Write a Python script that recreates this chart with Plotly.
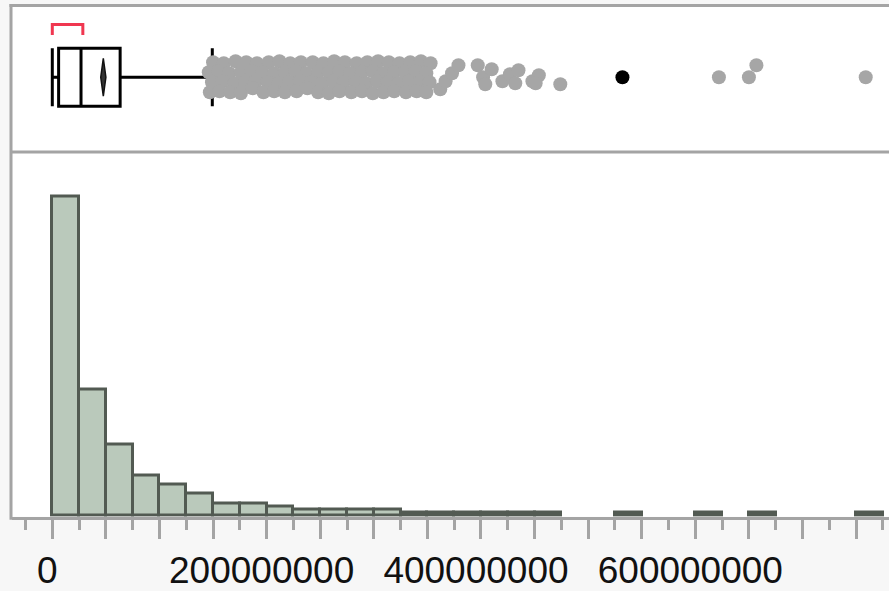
import plotly.graph_objects as go

W, H = 889, 591
M = 1e6

# ---------------- data ----------------
bin_width = 25 * M
hist_counts = [104, 41, 23, 13, 10, 7, 4, 4, 3, 2, 2, 2, 2, 1, 1, 1, 1, 1, 1,
               0, 0, 1, 0, 0, 1, 0, 1, 0, 0, 0, 1]

box_lower = 0.0
box_q1 = 5.9 * M
box_median = 26.8 * M
box_q3 = 63.3 * M
box_upper = 149.3 * M
mean_value = 47.6 * M
mean_ci_half = 2.4 * M
shortest_half = [0.0, 28.5 * M]

outlier_values_m = [
    150, 160, 171, 181, 191, 202, 212, 222, 232, 243, 253, 263, 273, 284, 294, 304, 314, 324, 334, 344, 353,
    146, 155, 165, 176, 186, 196, 207, 217, 227, 237, 248, 258, 268, 278, 289, 299, 309, 319, 329, 339, 349,
    149, 159, 170, 180, 190, 201, 211, 221, 231, 242, 252, 262, 272, 283, 293, 303, 313, 323, 333, 343, 352,
    147, 156, 166, 176, 187, 197, 207, 217, 228, 238, 248, 258, 268, 279, 289, 299, 309, 319, 330, 340, 349,
    362, 367, 373, 379,
    397, 402, 410, 404,
    420, 427, 432, 435,
    448, 454, 451,
    474,
    622, 650, 657, 759,
]
outlier_jitter = [
    15, 14, 16, 15, 14, 15, 16, 14, 15, 15, 14, 16, 15, 14, 15, 16, 15, 14, 15, 16, 14,
    5, 6, 4, 5, 6, 5, 4, 5, 6, 4, 5, 5, 6, 4, 5, 6, 4, 5, 5, 6, 4,
    -5, -4, -6, -5, -4, -5, -6, -5, -4, -5, -6, -4, -5, -5, -6, -4, -5, -6, -4, -5, -5,
    -15, -14, -15, -16, -11, -15, -14, -15, -14, -11, -15, -16, -14, -15, -14, -16, -15, -14, -15, -14, -15,
    -12, -4, 4, 12,
    12, 0, 8, -7,
    -4, 3, -6, 7,
    -4, 2, -6,
    -7,
    0, 0, 12, 0,
]
selected_value_m = [532]
selected_jitter = [0]

tick_values = [i * 50 * M for i in range(16)]
tick_labels = ["0", "", "", "", "200000000", "", "", "", "400000000", "", "", "",
               "600000000", "", "", ""]

# ---------------- styling / geometry ----------------
FRAME = "#a4a4a4"
BAR_FILL = "#bac9bb"
BAR_LINE = "#525a52"
DOT = "#a6a6a6"
RED = "#f03750"

def py(p):
    return 1 - p / H

def pxx(p):
    return p / W

px_per_unit = 1.0717  # px per million
x0_px = 52.3
x_range = [(12 - x0_px) / px_per_unit * M, (W - x0_px) / px_per_unit * M]

count_px = 3.1
hist_zero_px = 520
hist_top_px = 153
hist_bottom_px = 518.5
y_range = [-(hist_zero_px - hist_bottom_px) / count_px, (hist_zero_px - hist_top_px) / count_px]

box_center_px = 77.5
box_top_px, box_bottom_px = 6, 152
y2_range = [-(box_bottom_px - box_center_px), box_center_px - box_top_px]

fig = go.Figure()

centers = [(i + 0.5) * bin_width for i, c in enumerate(hist_counts) if c > 0]
heights = [c for c in hist_counts if c > 0]
fig.add_trace(go.Bar(
    x=centers, y=heights, width=bin_width,
    marker=dict(color=BAR_FILL, line=dict(color=BAR_LINE, width=3)),
    xaxis="x", yaxis="y", hoverinfo="skip",
))

fig.add_trace(go.Box(
    y=[0], q1=[box_q1], median=[box_median], q3=[box_q3],
    lowerfence=[box_lower], upperfence=[box_upper],
    orientation="h", width=58, whiskerwidth=1,
    fillcolor="white", line=dict(color="black", width=3),
    boxpoints=False, xaxis="x2", yaxis="y2", hoverinfo="skip",
))

dh = 19
fig.add_trace(go.Scatter(
    x=[mean_value - mean_ci_half, mean_value, mean_value + mean_ci_half, mean_value, mean_value - mean_ci_half],
    y=[0, dh, 0, -dh, 0], mode="lines", fill="toself",
    fillcolor="#333333", line=dict(color="#111111", width=1.5),
    xaxis="x2", yaxis="y2", hoverinfo="skip",
))

fig.add_trace(go.Scatter(
    x=[v * M for v in outlier_values_m], y=outlier_jitter, mode="markers",
    marker=dict(size=14, color=DOT, line=dict(width=0)),
    xaxis="x2", yaxis="y2", hoverinfo="skip",
))
fig.add_trace(go.Scatter(
    x=[v * M for v in selected_value_m], y=selected_jitter, mode="markers",
    marker=dict(size=14, color="black", line=dict(width=0)),
    xaxis="x2", yaxis="y2", hoverinfo="skip",
))

shapes = [
    dict(type="line", xref="paper", yref="paper", x0=pxx(9.5), x1=1.0, y0=py(5.5), y1=py(5.5),
         line=dict(color=FRAME, width=3)),
    dict(type="line", xref="paper", yref="paper", x0=pxx(11), x1=pxx(11), y0=py(521.5), y1=py(4),
         line=dict(color=FRAME, width=3)),
    dict(type="line", xref="paper", yref="paper", x0=pxx(11), x1=1.0, y0=py(152.5), y1=py(152.5),
         line=dict(color=FRAME, width=3)),
    dict(type="path", xref="x2", yref="y2",
         path=f"M {shortest_half[0]},42.5 L {shortest_half[0]},53 L {shortest_half[1]},53 L {shortest_half[1]},42.5",
         line=dict(color=RED, width=3)),
]

fig.update_layout(
    width=W, height=H, autosize=False,
    margin=dict(l=0, r=0, t=0, b=0),
    paper_bgcolor="#f7f7f7", plot_bgcolor="white",
    showlegend=False, bargap=0,
    shapes=shapes,
    xaxis=dict(
        domain=[12 / W, 1], range=x_range, anchor="y",
        showgrid=False, zeroline=False,
        showline=True, linecolor=FRAME, linewidth=3,
        ticks="outside", ticklen=19, tickwidth=3, tickcolor=FRAME,
        tickmode="array", tickvals=tick_values, ticktext=tick_labels,
        ticklabelshift=-5,
        tickfont=dict(family="Liberation Sans", size=37, color="#111111"),
        minor=dict(ticks="outside", ticklen=10, tickwidth=3, tickcolor=FRAME,
                   dtick=25 * M, tick0=0, showgrid=False),
    ),
    yaxis=dict(
        domain=[py(hist_bottom_px), py(hist_top_px)], range=y_range, anchor="x",
        visible=False, showgrid=False, zeroline=False,
    ),
    xaxis2=dict(
        domain=[12 / W, 1], range=x_range, anchor="y2", matches="x",
        visible=False, showgrid=False, zeroline=False,
    ),
    yaxis2=dict(
        domain=[py(box_bottom_px), py(box_top_px)], range=y2_range, anchor="x2",
        visible=False, showgrid=False, zeroline=False,
    ),
)

fig.write_html(
    "out.html",
    config={"displayModeBar": False},
    post_script="document.body.style.margin='0';document.body.style.background='#f7f7f7';",
)
